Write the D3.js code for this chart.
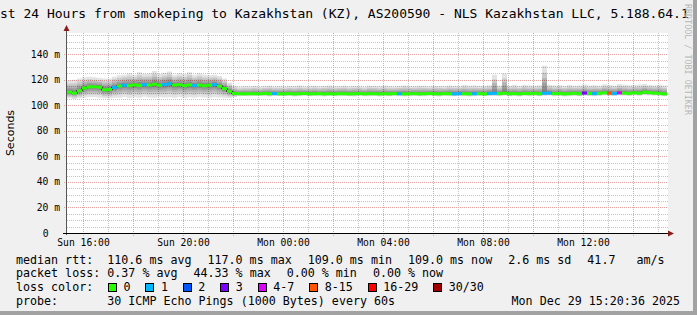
<!DOCTYPE html>
<html>
<head>
<meta charset="utf-8">
<title>smokeping</title>
<style>
  body { margin: 0; background: #f0f0f0; }
  text { font-family: "DejaVu Sans Mono", monospace; white-space: pre; }
</style>
</head>
<body>
<div id="chart"></div>
<script src="https://d3js.org/d3.v7.min.js"></script>
<script>

var title = "Last 24 Hours from smokeping to Kazakhstan (KZ), AS200590 - NLS Kazakhstan LLC, 5.188.64.1";
var startTime = new Date(2025, 11, 28, 15, 21, 36);
var stepMin = 12;   // one bucket = 12 minutes

// median rtt per bucket (ms)
var median = [110.4,109.6,111.5,113.6,114.5,114.6,114.2,112.2,112.4,114.0,
  115.2,115.8,115.5,116.0,115.6,116.2,115.8,116.5,115.7,116.3,
  117.0,115.9,116.2,115.5,116.0,115.6,115.9,115.4,115.8,116.2,
  115.0,113.2,111.0,109.3,
  109.1,109.0,109.2,109.1,109.0,109.3,109.1,109.2,109.0,109.1,
  109.2,109.0,109.1,109.3,109.0,109.1,109.2,109.0,109.1,109.0,
  109.2,109.1,109.0,109.1,109.3,109.0,109.2,109.1,109.0,109.1,
  109.0,109.2,109.1,109.0,109.1,109.2,109.0,109.1,109.3,109.1,
  109.0,109.2,109.1,109.0,109.2,109.1,109.0,109.1,109.2,109.0,
  109.3,109.4,109.2,109.5,109.1,109.2,109.0,109.3,109.2,109.4,
  109.1,109.5,109.6,109.2,109.3,109.0,109.2,109.4,109.1,109.6,
  109.3,109.2,109.4,109.8,109.5,109.3,109.8,109.6,109.4,109.8,
  109.5,110.3,110.0,109.6,109.4,109.0];

// highest / lowest ping of the 30 per bucket (ms)
var smokeHi = [119.5,120,121,122,122.5,122,121.5,121,121,122.5,
  123.5,124,125,124,126,124.5,125,127,124.5,125.5,
  126.5,124,125,124.5,126,124,125,124,123.5,124,
  123,121,118,115.5,
  114.5,115,114.8,115.2,114.6,115,115.4,114.8,115,114.7,
  115.2,114.9,115.5,114.8,115,115.3,114.7,115.1,115.6,114.9,
  115,115.4,114.8,115.2,115,114.6,115.3,115.1,114.9,115.5,
  115,114.8,115.2,115.6,115,114.9,115.3,115.1,114.8,115.4,
  115.1,114.9,115.6,115.2,115,116,115.3,115.5,115.1,115.4,
  115.8,124,115.6,125,115.4,115.9,115.2,116,115.5,115.3,
  115.7,131,116.2,115.5,115.8,115.2,115.9,115.4,115.6,116.3,
  115.5,115.8,115.3,116.5,116,115.6,116.8,116.2,115.7,115.9,
  116.4,116.7,116,115.8,116.2,115.5];
var smokeLo = [105.5,105,105.5,106,106.5,106.5,106,105.5,105.5,106,
  106,106.5,105.8,106.4,106,106.8,106.2,105.9,106.5,106.1,
  106.4,106,106.6,105.8,106.3,106,106.5,106.2,105.9,106.4,
  106.2,106,105.8,106.5,
  107.2,107.4,107.1,107.3,107.5,107.2,107.0,107.4,107.3,107.1,
  107.3,107.0,107.2,107.4,107.1,107.3,107.2,107.0,107.3,107.1,
  107.2,107.4,107.1,107.0,107.3,107.2,107.1,107.4,107.0,107.2,
  107.1,107.3,107.2,107.0,107.2,107.3,107.1,107.2,107.4,107.1,
  107.0,107.3,107.2,107.1,107.3,107.2,107.0,107.2,107.3,107.1,
  107.3,107.4,107.2,107.5,107.1,107.3,107.0,107.4,107.2,107.4,
  107.1,107.5,107.6,107.2,107.3,107.0,107.2,107.4,107.1,107.6,
  107.3,107.2,107.4,107.7,107.5,107.3,107.8,107.6,107.4,107.7,
  107.5,107.9,107.8,107.6,107.4,107.2];

// lost pings (of 30) per bucket, only the non zero ones
var lossAt = {9:1, 11:1, 15:1, 19:1, 20:1, 25:1, 29:1, 41:1, 66:1, 77:1, 78:1, 81:1,
  84:1, 85:1, 95:1, 96:1, 103:3, 105:1, 108:13, 109:1, 110:5};

var lossLabels = ["0", "1", "2", "3", "4-7", "8-15", "16-29", "30/30"];
var lossColors = ["#26ff00", "#00b8ff", "#0059ff", "#7e00ff", "#dd00ff", "#ff5500", "#ff0000", "#a10000"];
var lossUpper  = [0, 1, 2, 3, 7, 15, 29, 30];

var yTicks = [0, 20, 40, 60, 80, 100, 120, 140];
var rttStats  = ["110.6 ms avg", "117.0 ms max", "109.0 ms min", "109.0 ms now", "2.6 ms sd", "41.7   am/s"];
var lossStats = ["0.37 % avg", "44.33 % max", "0.00 % min", "0.00 % now"];
var probeText = "30 ICMP Echo Pings (1000 Bytes) every 60s";
var stamp = "Mon Dec 29 15:20:36 2025";

var W = 697, H = 315;
var plot = { left: 67, right: 667, top: 33, bottom: 233 };

var data = median.map(function(m, i) {
  return {
    t: d3.timeMinute.offset(startTime, i * stepMin),
    t1: d3.timeMinute.offset(startTime, (i + 1) * stepMin),
    med: m, hi: smokeHi[i], lo: smokeLo[i], loss: lossAt[i] || 0
  };
});

var x = d3.scaleTime()
  .domain([startTime, d3.timeMinute.offset(startTime, 24 * 60)])
  .range([plot.left, plot.right]);
var y = d3.scaleLinear().domain([0, 156.7]).range([plot.bottom, plot.top]);

var svg = d3.select("#chart").append("svg")
  .attr("width", W).attr("height", H);

svg.append("rect").attr("width", W).attr("height", H).attr("fill", "#f0f0f0");
svg.append("rect")
  .attr("x", plot.left).attr("y", plot.top)
  .attr("width", plot.right - plot.left + 1).attr("height", plot.bottom - plot.top)
  .attr("fill", "#ffffff");

// grid
var grid = svg.append("g").attr("shape-rendering", "crispEdges");
var minorY = d3.range(5, 156, 5).filter(function(v) { return v % 20 != 0; });
grid.selectAll(".hmin").data(minorY).enter().append("line")
  .attr("x1", plot.left).attr("x2", plot.right + 1)
  .attr("y1", function(d) { return Math.round(y(d)) + 0.5; })
  .attr("y2", function(d) { return Math.round(y(d)) + 0.5; })
  .attr("stroke", "#c4c4c4").attr("stroke-dasharray", "1,1");
var hours = d3.timeHour.range(x.domain()[0], x.domain()[1]);
grid.selectAll(".vmin").data(hours.filter(function(d) { return d.getHours() % 2; })).enter().append("line")
  .attr("x1", function(d) { return Math.round(x(d)) + 0.5; })
  .attr("x2", function(d) { return Math.round(x(d)) + 0.5; })
  .attr("y1", plot.top).attr("y2", plot.bottom)
  .attr("stroke", "#c4c4c4").attr("stroke-dasharray", "1,1");
grid.selectAll(".hmaj").data(yTicks.slice(1)).enter().append("line")
  .attr("x1", plot.left - 3).attr("x2", plot.right + 1)
  .attr("y1", function(d) { return Math.round(y(d)) + 0.5; })
  .attr("y2", function(d) { return Math.round(y(d)) + 0.5; })
  .attr("stroke", "#e7a3a3").attr("stroke-dasharray", "1,1");
grid.selectAll(".vmaj").data(hours.filter(function(d) { return d.getHours() % 2 == 0; })).enter().append("line")
  .attr("x1", function(d) { return Math.round(x(d)) + 0.5; })
  .attr("x2", function(d) { return Math.round(x(d)) + 0.5; })
  .attr("y1", plot.top).attr("y2", plot.bottom + 3)
  .attr("stroke", "#e7a3a3").attr("stroke-dasharray", "1,1");

// smoke
var layers = [1, 0.75, 0.55, 0.38, 0.24, 0.12];
var smoke = svg.append("g");
layers.forEach(function(f) {
  var area = d3.area()
    .x(function(d) { return x(d.t); })
    .y0(function(d) { return y(d.med - f * (d.med - d.lo)); })
    .y1(function(d) { return y(d.med + f * (d.hi - d.med)); })
    .curve(d3.curveStepAfter);
  var ext = data.concat([{ t: data[data.length - 1].t1, med: 0, hi: 0, lo: 0 }]);
  ext[ext.length - 1] = Object.assign({}, data[data.length - 1], { t: data[data.length - 1].t1 });
  smoke.append("path").datum(ext)
    .attr("d", area)
    .attr("fill", "#000").attr("fill-opacity", 0.11);
});

// median
var medExt = data.concat([Object.assign({}, data[data.length - 1], { t: data[data.length - 1].t1 })]);
svg.append("path").datum(medExt)
  .attr("d", d3.line().x(function(d) { return x(d.t); }).y(function(d) { return y(d.med); }).curve(d3.curveStepAfter))
  .attr("fill", "none").attr("stroke", "#111").attr("stroke-width", 1.2);
function lossColor(l) {
  for (var k = 0; k < lossUpper.length; k++) if (l <= lossUpper[k]) return lossColors[k];
  return lossColors[lossColors.length - 1];
}
svg.append("g").selectAll("rect").data(data).enter().append("rect")
  .attr("x", function(d) { return x(d.t); })
  .attr("width", function(d) { return x(d.t1) - x(d.t); })
  .attr("y", function(d) { return y(d.med) - 1.5; })
  .attr("height", 3)
  .attr("fill", function(d) { return lossColor(d.loss); });

// axes
var ax = svg.append("g").attr("shape-rendering", "crispEdges");
ax.append("line").attr("x1", plot.left - 0.5).attr("x2", plot.left - 0.5)
  .attr("y1", plot.top - 4).attr("y2", plot.bottom + 2).attr("stroke", "#555");
ax.append("line").attr("x1", plot.left - 4).attr("x2", plot.right + 2)
  .attr("y1", plot.bottom + 0.5).attr("y2", plot.bottom + 0.5).attr("stroke", "#000");
svg.append("path")
  .attr("d", "M" + (plot.left - 3.5) + "," + (plot.top - 2) + "L" + (plot.left - 0.5) + "," + (plot.top - 8) + "L" + (plot.left + 2.5) + "," + (plot.top - 2) + "Z")
  .attr("fill", "#8c1c1c");
svg.append("path")
  .attr("d", "M" + (plot.right + 1) + "," + (plot.bottom - 2.5) + "L" + (plot.right + 7) + "," + (plot.bottom + 0.5) + "L" + (plot.right + 1) + "," + (plot.bottom + 3.5) + "Z")
  .attr("fill", "#8c1c1c");

svg.append("g").selectAll("text").data(yTicks).enter().append("text")
  .attr("x", function(d) { return d == 0 ? 48.5 : 60; })
  .attr("y", function(d) { return y(d) + 3.5; })
  .attr("text-anchor", "end")
  .style("font-size", "9.7px")
  .text(function(d) { return d == 0 ? "0" : d + " m"; });

var fmt = d3.timeFormat("%a %H:%M");
svg.append("g").selectAll("text").data(x.ticks(d3.timeHour.every(4))).enter().append("text")
  .attr("x", function(d) { return x(d) + 0.5; })
  .attr("y", 246.3)
  .attr("text-anchor", "middle")
  .style("font-size", "9.7px")
  .text(fmt);

svg.append("text")
  .attr("transform", "translate(14," + ((plot.top + plot.bottom) / 2) + ")rotate(-90)")
  .attr("text-anchor", "middle")
  .style("font-family", "'DejaVu Sans', sans-serif")
  .style("font-size", "11px")
  .text("Seconds");

svg.append("text").attr("x", -15.7).attr("y", 18)
  .style("font-size", "13px").text(title);

// legend
var fs = "11.66px", col0 = 16, col1 = 107.3, gap = 16;
var rowsY = [263.5, 277.3, 291.1, 304.9];
function row(label, items, yy) {
  svg.append("text").attr("x", col0).attr("y", yy).style("font-size", fs).text(label);
  var xx = col1;
  items.forEach(function(s) {
    var t = svg.append("text").attr("x", xx).attr("y", yy).style("font-size", fs).text(s);
    xx += t.node().getComputedTextLength() + gap;
  });
}
row("median rtt:", rttStats, rowsY[0]);
row("packet loss:", lossStats, rowsY[1]);

svg.append("text").attr("x", col0).attr("y", rowsY[2]).style("font-size", fs).text("loss color:");
var bx = 108.5;
lossLabels.forEach(function(l, i) {
  svg.append("rect").attr("x", bx).attr("y", rowsY[2] - 8).attr("width", 8).attr("height", 8)
    .attr("fill", lossColors[i]).attr("stroke", "#000").attr("shape-rendering", "crispEdges");
  var t = svg.append("text").attr("x", bx + 15).attr("y", rowsY[2]).style("font-size", fs).text(l);
  bx += 15 + t.node().getComputedTextLength() + 15.4;
});

svg.append("text").attr("x", col0).attr("y", rowsY[3]).style("font-size", fs).text("probe:");
svg.append("text").attr("x", col1).attr("y", rowsY[3]).style("font-size", fs).text(probeText);
svg.append("text").attr("x", 680).attr("y", rowsY[3]).attr("text-anchor", "end").style("font-size", fs).text(stamp);

// watermark + frame
svg.append("text")
  .attr("transform", "translate(684.5,4)rotate(90)")
  .style("font-size", "8.4px").attr("fill", "#b8b8b8")
  .text("RRDTOOL / TOBI OETIKER");
svg.append("rect").attr("x", W - 4).attr("y", 0).attr("width", 4).attr("height", H).attr("fill", "#a2a2a2");
svg.append("rect").attr("x", 0).attr("y", H - 4).attr("width", W).attr("height", 4).attr("fill", "#a2a2a2");

</script>
</body>
</html>
